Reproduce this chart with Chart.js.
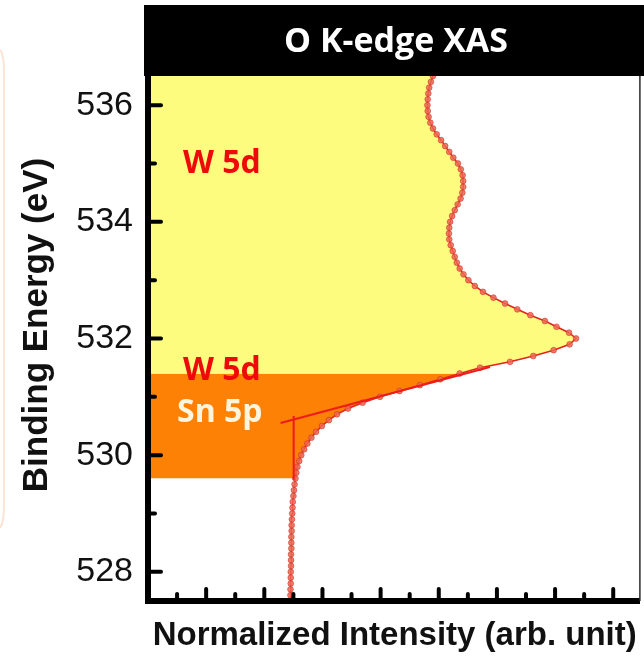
<!DOCTYPE html>
<html>
<head>
<meta charset="utf-8">
<title>O K-edge XAS</title>
<script src="https://cdn.jsdelivr.net/npm/chart.js@4.4.1/dist/chart.umd.min.js"></script>
<style>
  html, body { margin: 0; padding: 0; background: #fff; }
  #wrap { width: 644px; height: 660px; }
</style>
</head>
<body>
<div id="wrap"><canvas id="xasChart" width="644" height="660"></canvas></div>
<script>
// binding energy (eV) and normalized intensity of the O K-edge spectrum
var energy = [
  527.5, 527.6, 527.7, 527.8, 527.9, 528.0, 528.1, 528.2, 528.3, 528.4,
  528.5, 528.6, 528.7, 528.8, 528.9, 529.0, 529.1, 529.2, 529.3, 529.4,
  529.5, 529.6, 529.7, 529.8, 529.9, 530.0, 530.1, 530.2, 530.3, 530.4,
  530.5, 530.6, 530.7, 530.8, 530.9, 531.0, 531.1, 531.2, 531.3, 531.4,
  531.5, 531.6, 531.7, 531.8, 531.9, 532.0, 532.1, 532.2, 532.3, 532.4,
  532.5, 532.6, 532.7, 532.8, 532.9, 533.0, 533.1, 533.2, 533.3, 533.4,
  533.5, 533.6, 533.7, 533.8, 533.9, 534.0, 534.1, 534.2, 534.3, 534.4,
  534.5, 534.6, 534.7, 534.8, 534.9, 535.0, 535.1, 535.2, 535.3, 535.4,
  535.5, 535.6, 535.7, 535.8, 535.9, 536.0, 536.1, 536.2, 536.3, 536.4,
  536.5
];
var intensity = [
  4.90, 4.90, 4.90, 4.91, 4.91, 4.91, 4.92, 4.92, 4.92, 4.93,
  4.93, 4.93, 4.94, 4.94, 4.95, 4.96, 4.97, 4.98, 5.00, 5.02,
  5.04, 5.07, 5.10, 5.14, 5.20, 5.27, 5.37, 5.48, 5.62, 5.78,
  5.98, 6.22, 6.50, 6.88, 7.38, 7.98, 8.65, 9.35, 10.05, 10.72,
  11.42, 12.45, 13.25, 13.95, 14.50, 14.72, 14.48, 14.05, 13.65, 13.15,
  12.70, 12.28, 11.88, 11.52, 11.24, 11.02, 10.85, 10.72, 10.62, 10.55,
  10.48, 10.41, 10.36, 10.35, 10.36, 10.39, 10.46, 10.55, 10.65, 10.75,
  10.81, 10.84, 10.84, 10.82, 10.76, 10.66, 10.50, 10.36, 10.22, 10.08,
  9.93, 9.80, 9.71, 9.65, 9.62, 9.61, 9.62, 9.64, 9.67, 9.73,
  9.80
];

// edge-onset construction: tangent to the rising edge and the drop to the baseline
var tangentEnergy = [530.55, 531.51];
var tangentIntensity = [4.56, 11.76];
var onsetEnergy = [530.67, 529.58];
var onsetIntensity = [5.01, 5.01];

// shaded bands: orange between the onset and the W 5d edge, yellow above it
var orangeFrom = 529.6;
var yellowFrom = 531.4;

var yLabelTicks = [528, 530, 532, 534, 536];
var yMinorTicks = [529, 531, 533, 535];
var xMajorTicks = [2, 4, 6, 8, 10, 12, 14, 16];
var xMinorTicks = [1, 3, 5, 7, 9, 11, 13, 15];

var bandLabels = [
  { text: 'W 5d', color: '#ee0a0a', x: 2.54, y: 535.0 },
  { text: 'W 5d', color: '#ee0a0a', x: 2.54, y: 531.44 },
  { text: 'Sn 5p', color: '#fff4dc', x: 2.47, y: 530.73 }
];

var chartTitle = 'O K-edge XAS';
var yTitle = 'Binding Energy (eV)';
var xTitle = 'Normalized Intensity (arb. unit)';

var pairUp = (xs, ys) => xs.map((v, i) => ({ x: v, y: ys[i] }));

var bandColor = (e) => {
  if (e >= yellowFrom - 1e-6) return '#fdfc7f';
  if (e >= orangeFrom - 1e-6) return '#fd8105';
  return 'rgba(0,0,0,0)';
};

var xasFrame = {
  id: 'xasFrame',
  beforeDraw: (chart) => {
    var c = chart.ctx, area = chart.chartArea;
    c.save();
    // black header strip
    c.fillStyle = '#000';
    c.fillRect(area.left - 4, 5, chart.width - area.left + 4, area.top - 5);
    // faint edge of the neighbouring panel
    c.strokeStyle = '#fbe4d6';
    c.lineWidth = 2;
    c.beginPath();
    c.moveTo(0, 50);
    c.quadraticCurveTo(4, 54, 4, 72);
    c.lineTo(4, 505);
    c.quadraticCurveTo(4, 522, 0, 528);
    c.stroke();
    c.restore();
  },
  afterDraw: (chart) => {
    var c = chart.ctx, area = chart.chartArea;
    var xs = chart.scales.x, ys = chart.scales.y;
    c.save();

    // thin right frame
    c.strokeStyle = '#2a2a2a';
    c.lineWidth = 1.5;
    c.beginPath();
    c.moveTo(area.right + 0.5, area.top);
    c.lineTo(area.right + 0.5, area.bottom);
    c.stroke();

    // inward tick marks
    c.strokeStyle = '#000';
    c.lineWidth = 4;
    c.lineCap = 'round';
    var stub = (x1, y1, x2, y2) => {
      c.beginPath(); c.moveTo(x1, y1); c.lineTo(x2, y2); c.stroke();
    };
    xMajorTicks.forEach(v => { var px = xs.getPixelForValue(v); stub(px, area.bottom, px, area.bottom - 12); });
    xMinorTicks.forEach(v => { var px = xs.getPixelForValue(v); stub(px, area.bottom, px, area.bottom - 7); });
    yLabelTicks.forEach(v => { var py = ys.getPixelForValue(v); stub(area.left, py, area.left + 13, py); });
    yMinorTicks.forEach(v => { var py = ys.getPixelForValue(v); stub(area.left, py, area.left + 7, py); });

    // header text
    c.fillStyle = '#fff';
    c.font = 'bold 34px "Open Sans"';
    c.textAlign = 'center';
    c.textBaseline = 'middle';
    c.fillText(chartTitle, (area.left + chart.width) / 2, 42);

    // band labels
    c.font = 'bold 32px "Open Sans"';
    bandLabels.forEach(l => {
      c.fillStyle = l.color;
      c.fillText(l.text, xs.getPixelForValue(l.x), ys.getPixelForValue(l.y));
    });

    // axis titles
    c.fillStyle = '#111';
    c.font = 'bold 33px "Liberation Sans"';
    c.fillText(xTitle, (area.left + area.right) / 2 + 1, 636);
    c.translate(37, 325);
    c.rotate(-Math.PI / 2);
    c.font = 'bold 35px "Liberation Sans"';
    c.fillText(yTitle, 0, 0);
    c.restore();
  }
};

var ctx = document.getElementById('xasChart').getContext('2d');

var xasChart = new Chart(ctx, {
  type: 'line',
  data: {
    datasets: [
      {
        data: pairUp(tangentIntensity, tangentEnergy),
        borderColor: '#ee1b1b',
        borderWidth: 2,
        pointRadius: 0,
        fill: false,
        order: 0
      },
      {
        data: pairUp(onsetIntensity, onsetEnergy),
        borderColor: '#ee1b1b',
        borderWidth: 2,
        pointRadius: 0,
        fill: false,
        order: 0
      },
      {
        data: pairUp(intensity, energy),
        borderColor: '#e3241c',
        borderWidth: 1.6,
        backgroundColor: '#fdfc7f',
        pointRadius: 2.9,
        pointBackgroundColor: 'rgba(236,104,84,0.85)',
        pointBorderColor: 'rgba(205,45,35,0.9)',
        pointBorderWidth: 0.6,
        tension: 0,
        fill: 'origin',
        segment: {
          backgroundColor: (sc) => bandColor(sc.p0.parsed.y)
        },
        order: 1
      }
    ]
  },
  options: {
    indexAxis: 'y',
    responsive: false,
    animation: false,
    layout: { padding: { top: 76, right: 4, left: 0, bottom: 0 } },
    plugins: {
      legend: { display: false },
      tooltip: { enabled: false },
      title: { display: false },
      filler: { drawTime: 'beforeDatasetsDraw' }
    },
    scales: {
      x: {
        type: 'linear',
        min: 0,
        max: 16.9,
        grid: { display: false, drawTicks: false },
        border: { display: true, color: '#000', width: 6, z: 1 },
        ticks: { display: false },
        afterFit: (scale) => { scale.height = 59; }
      },
      y: {
        type: 'linear',
        min: 527.5,
        max: 536.5,
        grid: { display: false, drawTicks: false },
        border: { display: true, color: '#000', width: 6, z: 1 },
        afterBuildTicks: (scale) => { scale.ticks = yLabelTicks.map(v => ({ value: v })); },
        ticks: {
          padding: 15,
          color: '#111',
          font: { family: '"Liberation Sans", Arial, sans-serif', size: 34 },
          callback: (v) => String(v)
        },
        afterFit: (scale) => { scale.width = 148; }
      }
    }
  },
  plugins: [xasFrame]
});
</script>
</body>
</html>
